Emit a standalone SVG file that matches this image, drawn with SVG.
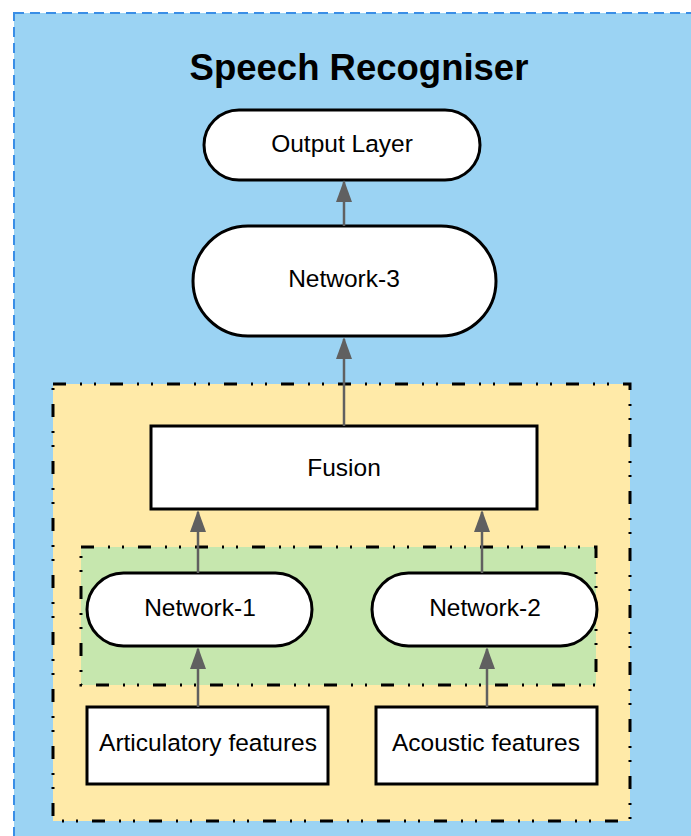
<svg xmlns="http://www.w3.org/2000/svg" width="691" height="836" viewBox="0 0 691 836">
<defs>
<style>
.lbl{font-family:"Liberation Sans",Arial,sans-serif;font-size:24.5px;fill:#000;text-anchor:middle;dominant-baseline:central}
.node{fill:#fff;stroke:#000;stroke-width:3}
.dd{stroke:#000;stroke-width:3;stroke-dasharray:13 14 2 12 2 14}
.conn{stroke:#606060;stroke-width:2.5;fill:none;marker-end:url(#ah)}
</style>
<marker id="ah" viewBox="0 0 22 16" refX="20" refY="8" markerWidth="22" markerHeight="16" markerUnits="userSpaceOnUse" orient="auto">
<path d="M0,0 L22,8 L0,16 Z" fill="#606060"/>
</marker>
</defs>
<g id="speech-recogniser">
<rect x="14" y="13" width="700" height="840" fill="#9bd3f3" stroke="#3a8ee6" stroke-width="2" stroke-dasharray="10 6"/>
<text x="359" y="67" font-family="Liberation Sans,Arial,sans-serif" font-weight="bold" font-size="36.5" text-anchor="middle" dominant-baseline="central">Speech Recogniser</text>
</g>
<g id="fusion-group">
<rect x="53" y="384" width="577" height="437" fill="#ffeaa8" class="dd"/>
</g>
<g id="network-group">
<rect x="81" y="547" width="515" height="138" fill="#c6e7ae" class="dd"/>
</g>
<g id="output-layer">
<rect x="204" y="110" width="276" height="70" rx="35" class="node"/>
<text x="342" y="143" class="lbl">Output Layer</text>
</g>
<g id="network-3">
<rect x="193" y="226" width="303" height="110" rx="55" class="node"/>
<text x="344" y="278" class="lbl">Network-3</text>
</g>
<g id="fusion">
<rect x="151" y="426" width="386" height="83" class="node"/>
<text x="344" y="467" class="lbl">Fusion</text>
</g>
<g id="network-1">
<rect x="87" y="573" width="225" height="73" rx="36.5" class="node"/>
<text x="200" y="607" class="lbl">Network-1</text>
</g>
<g id="network-2">
<rect x="372" y="573" width="225" height="73" rx="36.5" class="node"/>
<text x="485" y="607" class="lbl">Network-2</text>
</g>
<g id="articulatory-features">
<rect x="87" y="707" width="241" height="77" class="node"/>
<text x="208" y="742" class="lbl">Articulatory features</text>
</g>
<g id="acoustic-features">
<rect x="376" y="707" width="221" height="77" class="node"/>
<text x="486" y="742" class="lbl">Acoustic features</text>
</g>
<g id="connectors">
<path d="M344,226 V182" class="conn"/>
<path d="M344,426 V339" class="conn"/>
<path d="M198,573 V512" class="conn"/>
<path d="M482,573 V512" class="conn"/>
<path d="M198,707 V649" class="conn"/>
<path d="M487,707 V649" class="conn"/>
</g>
</svg>
